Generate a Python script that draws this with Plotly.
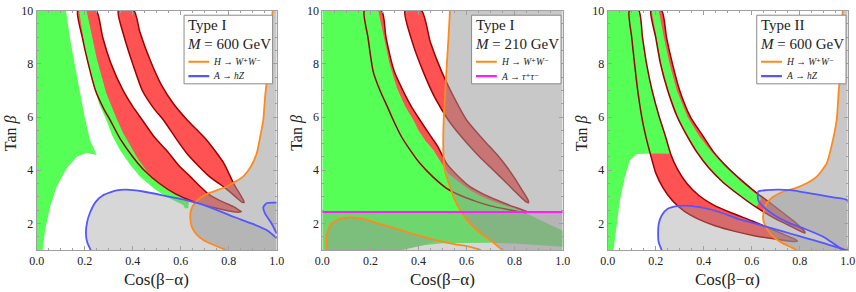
import plotly.graph_objects as go

# ------------------------------------------------------------------ data
X_TICKS = [0.0, 0.2, 0.4, 0.6, 0.8, 1.0]
X_TICK_TEXT = ["0.0", "0.2", "0.4", "0.6", "0.8", "1.0"]
Y_TICKS = [2, 4, 6, 8, 10]
Y_TICK_TEXT = ["2", "4", "6", "8", "10"]

PANEL_TYPE = ["Type I", "Type I", "Type II"]
PANEL_MASS = ["600", "210", "600"]
LEGEND_1 = ["H → W⁺W⁻", "H → W⁺W⁻", "H → W⁺W⁻"]
LEGEND_2 = ["A → hZ", "A → τ⁺τ⁻", "A → hZ"]

# ---- panel 1 (Type I, 600 GeV)
P1_GREEN_LEFT = [(0, 1), (0, 10), (0.122, 10), (0.14, 8.9), (0.16, 7.9), (0.18, 6.9), (0.20, 6.0),
                 (0.222, 5.14), (0.25, 4.57), (0.208, 4.66), (0.167, 4.51), (0.125, 4.07),
                 (0.083, 3.38), (0.056, 2.63), (0.035, 1.75), (0.025, 1.0)]
P1_GREEN_STRIP = [(0.177, 10), (0.20, 8.6), (0.23, 7.4), (0.26, 6.5), (0.29, 5.89), (0.315, 5.3),
                  (0.347, 4.76), (0.39, 4.2), (0.43, 3.76), (0.49, 3.3), (0.54, 3.0), (0.61, 2.69),
                  (0.618, 2.57), (0.632, 2.57), (0.634, 2.85), (0.58, 3.1), (0.51, 3.5), (0.46, 3.95),
                  (0.42, 4.45), (0.39, 4.9), (0.36, 5.4), (0.33, 6.0), (0.29, 6.9), (0.25, 8.2), (0.208, 10)]
P1_L1 = [(0.171, 10), (0.19, 9), (0.215, 8), (0.245, 7), (0.28, 6.3), (0.305, 5.9), (0.35, 5.15),
         (0.40, 4.51), (0.45, 3.98), (0.51, 3.51), (0.58, 3.1), (0.653, 2.82), (0.75, 2.57), (0.84, 2.42)]
P1_R1 = [(0.248, 10), (0.275, 9), (0.31, 8), (0.36, 7), (0.40, 6.4), (0.44, 5.89), (0.49, 5.25),
         (0.54, 4.76), (0.59, 4.2), (0.64, 3.76), (0.68, 3.4), (0.72, 3.07), (0.77, 2.83), (0.82, 2.63),
         (0.848, 2.47)]
P1_TIP1 = (0.853, 2.44)
P1_L2 = [(0.34, 10), (0.365, 9), (0.40, 8), (0.44, 7), (0.49, 6.3), (0.528, 5.89), (0.58, 5.2),
         (0.625, 4.64), (0.67, 4.2), (0.72, 3.76), (0.79, 3.3), (0.835, 2.95), (0.855, 2.8)]
P1_R2 = [(0.405, 10), (0.43, 9.2), (0.47, 8.2), (0.52, 7.2), (0.57, 6.5), (0.627, 5.89), (0.708, 5.14),
         (0.78, 4.26), (0.82, 3.51), (0.85, 3.05), (0.862, 2.86)]
P1_TIP2 = (0.864, 2.79)
P1_ORANGE = [(0.983, 10), (0.975, 9), (0.965, 7.9), (0.952, 6.8), (0.944, 5.89), (0.93, 5.2),
             (0.917, 4.64), (0.89, 4.1), (0.86, 3.76), (0.79, 3.38), (0.72, 3.15), (0.685, 2.98),
             (0.66, 2.78), (0.643, 2.5), (0.64, 2.2), (0.646, 1.88), (0.665, 1.6), (0.694, 1.38),
             (0.74, 1.18), (0.79, 1.0)]
P1_BLUE = [(0.225, 1.0), (0.21, 1.3), (0.205, 1.63), (0.21, 2.05), (0.222, 2.4), (0.245, 2.8),
           (0.275, 3.05), (0.333, 3.24), (0.375, 3.27), (0.444, 3.2), (0.54, 3.03), (0.61, 2.9),
           (0.70, 2.68), (0.82, 2.25), (0.90, 1.98), (0.958, 1.75), (0.993, 1.5), (1.0, 1.45)]
P1_BLUE_LOOP = [(1.0, 2.78), (0.958, 2.76), (0.944, 2.6), (0.951, 2.38), (0.975, 2.05), (0.99, 1.8),
                (1.0, 1.62)]

# ---- panel 2 (Type I, 210 GeV)
P2_GREEN = [(0, 1), (0, 10), (0.233, 10), (0.255, 9), (0.28, 8), (0.31, 7.1), (0.345, 6.4),
            (0.379, 5.89), (0.40, 5.5), (0.43, 5.1), (0.462, 4.76), (0.49, 4.35), (0.524, 3.88),
            (0.57, 3.55), (0.614, 3.26), (0.66, 3.02), (0.711, 2.82), (0.77, 2.65), (0.822, 2.5),
            (0.878, 2.25), (0.93, 2.02), (0.961, 1.88), (1.0, 1.72), (1.0, 1.12), (0.9, 1.18),
            (0.8, 1.24), (0.7, 1.27), (0.6, 1.27), (0.5, 1.25), (0.42, 1.18), (0.36, 1.06), (0.33, 1.0)]
P2_L1 = [(0.175, 10), (0.19, 9), (0.212, 7.7), (0.24, 7), (0.27, 6.4), (0.295, 5.89), (0.33, 5.25),
         (0.37, 4.7), (0.406, 4.26), (0.46, 3.75), (0.517, 3.32), (0.58, 3.03), (0.642, 2.82),
         (0.70, 2.66), (0.767, 2.53), (0.845, 2.4)]
P2_R1 = [(0.247, 10), (0.265, 9), (0.30, 7.7), (0.33, 7.1), (0.37, 6.4), (0.406, 5.89), (0.448, 5.32),
         (0.48, 4.9), (0.517, 4.26), (0.56, 3.82), (0.614, 3.38), (0.67, 3.1), (0.725, 2.88),
         (0.78, 2.68), (0.836, 2.5), (0.85, 2.45)]
P2_TIP1 = (0.853, 2.42)
P2_L2 = [(0.344, 10), (0.375, 8.8), (0.42, 7.7), (0.47, 6.7), (0.524, 5.89), (0.57, 5.35),
         (0.614, 4.89), (0.66, 4.45), (0.711, 4.01), (0.755, 3.62), (0.795, 3.26), (0.83, 2.95),
         (0.85, 2.8)]
P2_R2 = [(0.413, 10), (0.45, 8.8), (0.497, 7.7), (0.55, 6.7), (0.60, 5.89), (0.645, 5.4),
         (0.684, 5.01), (0.73, 4.55), (0.767, 4.13), (0.80, 3.7), (0.822, 3.38), (0.845, 3.05),
         (0.857, 2.85)]
P2_TIP2 = (0.858, 2.78)
P2_ORANGE = [(0.531, 10), (0.525, 9), (0.518, 8), (0.51, 6.7), (0.505, 5.89), (0.503, 5.0),
             (0.505, 4.4), (0.512, 3.9), (0.531, 3.38), (0.55, 2.9), (0.573, 2.5), (0.60, 2.15),
             (0.628, 1.88), (0.66, 1.62), (0.698, 1.38), (0.74, 1.06), (0.75, 1.0)]
P2_LOOP = [(0.018, 1.0), (0.016, 1.35), (0.022, 1.7), (0.035, 1.95), (0.06, 2.12), (0.09, 2.21),
           (0.12, 2.23), (0.17, 2.17), (0.24, 1.98), (0.337, 1.72), (0.41, 1.52), (0.476, 1.36),
           (0.55, 1.22), (0.614, 1.12), (0.66, 1.0)]
P2_TAU_LIMIT = 2.43

# ---- panel 3 (Type II, 600 GeV)
P3_GREEN_LEFT = [(0, 1), (0, 10), (0.13, 10), (0.145, 9), (0.162, 8), (0.185, 7), (0.215, 6),
                 (0.24, 5.3), (0.262, 4.62), (0.2, 4.63), (0.16, 4.63), (0.121, 4.61), (0.093, 4.38),
                 (0.072, 3.76), (0.051, 2.88), (0.0375, 1.88), (0.024, 1.0)]
P3_GREEN_STRIP = [(0.183, 10), (0.203, 9), (0.223, 8), (0.253, 7), (0.293, 6), (0.333, 5.3),
                  (0.373, 4.7), (0.423, 4.1), (0.483, 3.55), (0.553, 3.05), (0.62, 2.62),
                  (0.64, 2.95), (0.61, 3.17), (0.55, 3.62), (0.49, 4.12), (0.43, 4.72), (0.38, 5.3),
                  (0.333, 6), (0.288, 7), (0.258, 8), (0.234, 9), (0.213, 10)]
P3_L1 = [(0.09, 10), (0.10, 9), (0.112, 8), (0.125, 7), (0.142, 6), (0.158, 5.3), (0.178, 4.6),
         (0.20, 3.9), (0.23, 3.35), (0.27, 2.85), (0.32, 2.45), (0.38, 2.15), (0.45, 1.9),
         (0.53, 1.7), (0.62, 1.52), (0.70, 1.41), (0.775, 1.32)]
P3_R1 = [(0.13, 10), (0.145, 9), (0.162, 8), (0.185, 7), (0.215, 6), (0.24, 5.3), (0.262, 4.62),
         (0.29, 4.05), (0.33, 3.5), (0.38, 3.05), (0.44, 2.7), (0.52, 2.38), (0.60, 2.1),
         (0.68, 1.8), (0.75, 1.52), (0.785, 1.38)]
P3_TIP1 = (0.79, 1.33)
P3_L2 = [(0.18, 10), (0.20, 9), (0.22, 8), (0.25, 7), (0.29, 6), (0.33, 5.3), (0.37, 4.7),
         (0.42, 4.1), (0.48, 3.55), (0.55, 3.05), (0.62, 2.6), (0.69, 2.22), (0.75, 1.95),
         (0.80, 1.72), (0.815, 1.66)]
P3_R2 = [(0.225, 10), (0.245, 9), (0.27, 8), (0.30, 7), (0.345, 6), (0.396, 5.3), (0.44, 4.7),
         (0.50, 4.1), (0.56, 3.6), (0.62, 3.15), (0.68, 2.75), (0.73, 2.4), (0.78, 2.05),
         (0.81, 1.8), (0.82, 1.7)]
P3_TIP2 = (0.822, 1.64)
P3_ORANGE = [(0.979, 10), (0.975, 9), (0.971, 7.89), (0.962, 6.9), (0.954, 5.89), (0.935, 5.0),
             (0.9125, 4.26), (0.87, 3.75), (0.829, 3.51), (0.78, 3.32), (0.73, 3.19), (0.69, 3.0),
             (0.6625, 2.76), (0.65, 2.45), (0.648, 2.13), (0.66, 1.85), (0.676, 1.63), (0.70, 1.42),
             (0.73, 1.25), (0.765, 1.1), (0.7875, 1.0)]
P3_BLUE1 = [(0.225, 1.0), (0.212, 1.3), (0.21, 1.63), (0.213, 2.0), (0.225, 2.3), (0.25, 2.55),
            (0.29, 2.65), (0.34, 2.66), (0.40, 2.58), (0.468, 2.42), (0.55, 2.15), (0.62, 1.98),
            (0.70, 1.78), (0.76, 1.62), (0.83, 1.44), (0.885, 1.3), (0.95, 1.12), (0.985, 1.0)]
P3_BLUE2 = [(0.627, 3.2), (0.66, 3.25), (0.76, 3.25), (0.85, 3.12), (0.94, 2.98), (1.0, 2.86),
            (1.0, 1.0), (0.99, 1.0), (0.968, 1.08), (0.898, 1.5), (0.82, 1.8), (0.76, 2.0),
            (0.70, 2.28), (0.648, 2.63), (0.627, 2.88)]

# ------------------------------------------------------------------ styles
GREEN = "#55ff55"
RED = "#ff5252"
DARKRED = "#9e0000"
ORANGE = "#ff8a1c"
BLUE = "#5656ff"
MAGENTA = "#ff1aff"
GRAY_LIGHT = "rgba(150,150,150,0.38)"
GRAY_MED = "rgba(150,150,150,0.52)"
FONT = "Liberation Serif"

fig = go.Figure()


def ax_names(i):
    return ("x", "y") if i == 1 else (f"x{i}", f"y{i}")


def closed(pts):
    xs = [p[0] for p in pts]
    ys = [p[1] for p in pts]
    return xs + [xs[0]], ys + [ys[0]]


def add_fill(pts, color, i, smooth=False):
    xa, ya = ax_names(i)
    xs, ys = closed(pts)
    line = dict(width=0, color=color)
    if smooth:
        line.update(shape="spline", smoothing=0.6)
    fig.add_trace(go.Scatter(x=xs, y=ys, fill="toself", fillcolor=color, mode="lines",
                             line=line, xaxis=xa, yaxis=ya, hoverinfo="skip", showlegend=False))


def add_line(pts, color, width, i, close=False):
    xa, ya = ax_names(i)
    if close:
        xs, ys = closed(pts)
    else:
        xs = [p[0] for p in pts]
        ys = [p[1] for p in pts]
    fig.add_trace(go.Scatter(x=xs, y=ys, mode="lines",
                             line=dict(color=color, width=width, shape="spline", smoothing=0.6),
                             xaxis=xa, yaxis=ya, hoverinfo="skip", showlegend=False))


def band(left, tip, right):
    return left + [tip] + right[::-1]


def right_region(curve):
    return curve + [(1.0, 1.0), (1.0, 10.0)]


def math_label(s):
    a, b = s.split(" → ")
    sup = "<span style='font-family:DejaVu Serif'>{}</span>"
    b = b.replace("⁺", sup.format("⁺")).replace("⁻", sup.format("⁻"))
    return f"<i>{a}</i> → <i>{b}</i>"


bands = {
    1: [band(P1_L1, P1_TIP1, P1_R1), band(P1_L2, P1_TIP2, P1_R2)],
    2: [band(P2_L1, P2_TIP1, P2_R1), band(P2_L2, P2_TIP2, P2_R2)],
    3: [band(P3_L1, P3_TIP1, P3_R1), band(P3_L2, P3_TIP2, P3_R2)],
}

# red band fills
for i in (1, 2, 3):
    for b in bands[i]:
        add_fill(b, RED, i, smooth=True)

# green regions
add_fill(P1_GREEN_LEFT, GREEN, 1)
add_fill(P1_GREEN_STRIP, GREEN, 1)
add_fill(P2_GREEN, GREEN, 2)
add_fill(P3_GREEN_LEFT, GREEN, 3)
add_fill(P3_GREEN_STRIP, GREEN, 3)

# band outlines
for i in (1, 2, 3):
    for b in bands[i]:
        add_line(b, DARKRED, 1.5, i, close=True)

# gray exclusion overlays
add_fill(P1_BLUE + [(1.0, 1.0)], GRAY_LIGHT, 1)
add_fill(P1_BLUE_LOOP, GRAY_LIGHT, 1)
add_fill(right_region(P1_ORANGE), GRAY_MED, 1)

tau_box = [(0, 1), (1, 1), (1, P2_TAU_LIMIT), (0, P2_TAU_LIMIT)]
add_fill(tau_box, GRAY_LIGHT, 2)
add_fill(right_region(P2_ORANGE), GRAY_MED, 2)
loop_cut = max(p[0] for p in P2_LOOP if p[1] > 1.3)
loop_overlay = [p for p in P2_LOOP if p[0] <= loop_cut] + \
               [p for p in P2_GREEN[-8:] if p[0] < loop_cut]
add_fill(loop_overlay, GRAY_LIGHT, 2)

add_fill(P3_BLUE1, GRAY_LIGHT, 3)
add_fill(right_region(P3_ORANGE), GRAY_MED, 3)
add_fill(P3_BLUE2, GRAY_LIGHT, 3)

# boundary curves
add_line(P1_ORANGE, ORANGE, 1.8, 1)
add_line(P1_BLUE, BLUE, 1.8, 1)
add_line(P1_BLUE_LOOP, BLUE, 1.8, 1)
add_line(P2_ORANGE, ORANGE, 1.8, 2)
add_line(P2_LOOP, ORANGE, 1.8, 2)
add_line([(0, P2_TAU_LIMIT), (1, P2_TAU_LIMIT)], MAGENTA, 2.0, 2)
add_line(P3_ORANGE, ORANGE, 1.8, 3)
add_line(P3_BLUE1, BLUE, 1.8, 3)
add_line(P3_BLUE2, BLUE, 1.8, 3, close=True)

# ------------------------------------------------------------------ layout
W, H = 856, 292
x_px = [(36.7, 276.7), (322.3, 562.7), (607.7, 847.7)]
y_dom = [1 - 250 / H, 1 - 10.7 / H]

frame = dict(showline=True, linecolor="#a0a0a0", linewidth=1, mirror="allticks", ticks="inside",
             ticklen=4, tickcolor="#a0a0a0", tickwidth=1, showgrid=False, zeroline=False,
             tickfont=dict(family=FONT, size=12, color="#222"), automargin=False)

layout = dict(width=W, height=H, margin=dict(l=0, r=0, t=0, b=0), plot_bgcolor="white",
              paper_bgcolor="white", showlegend=False)
for i in (1, 2, 3):
    sx = "" if i == 1 else str(i)
    layout[f"xaxis{sx}"] = dict(frame, domain=[x_px[i - 1][0] / W, x_px[i - 1][1] / W], range=[0, 1],
                                tickmode="array", tickvals=X_TICKS, ticktext=X_TICK_TEXT,
                                anchor=f"y{sx}",
                                minor=dict(ticks="inside", ticklen=2, tickcolor="#a0a0a0",
                                           tickmode="linear", tick0=0, dtick=0.05, showgrid=False))
    layout[f"yaxis{sx}"] = dict(frame, domain=y_dom, range=[1, 10], tickmode="array",
                                tickvals=Y_TICKS, ticktext=Y_TICK_TEXT, anchor=f"x{sx}",
                                minor=dict(ticks="inside", ticklen=2, tickcolor="#a0a0a0",
                                           tickmode="linear", tick0=0, dtick=0.5, showgrid=False))
fig.update_layout(**layout)

annotations = []
shapes = []
box_x = [(0.614, 0.983), (0.621, 0.993), (0.621, 0.993)]
line_cols = [(ORANGE, BLUE), (ORANGE, MAGENTA), (ORANGE, BLUE)]
for i in (1, 2, 3):
    xa, ya = ax_names(i)
    x0, x1 = x_px[i - 1]
    cx = (x0 + x1) / 2 / W
    annotations.append(dict(x=cx, y=1 - 279 / H, xref="paper", yref="paper", text="Cos(β−α)",
                            showarrow=False, font=dict(family=FONT, size=17, color="#222"),
                            xanchor="center", yanchor="middle"))
    annotations.append(dict(x=max(x0 - 36.5, 0) / W, y=1 - 133 / H, xref="paper", yref="paper",
                            text="Tan <i>β</i>", textangle=-90, showarrow=False,
                            font=dict(family=FONT, size=16, color="#222"),
                            xanchor="left", yanchor="middle"))
    bx0, bx1 = box_x[i - 1]
    shapes.append(dict(type="rect", xref=xa, yref=ya, x0=bx0, x1=bx1, y0=7.25, y1=9.83,
                       fillcolor="white", line=dict(color="#8a8a8a", width=1), layer="above"))
    annotations.append(dict(x=bx0 + 0.01, y=9.45, xref=xa, yref=ya, text=PANEL_TYPE[i - 1],
                            showarrow=False, xanchor="left", yanchor="middle",
                            font=dict(family=FONT, size=15, color="#222")))
    annotations.append(dict(x=bx0 + 0.005, y=8.76, xref=xa, yref=ya,
                            text=f"<i>M</i> = {PANEL_MASS[i - 1]} GeV",
                            showarrow=False, xanchor="left", yanchor="middle",
                            font=dict(family=FONT, size=15, color="#222")))
    for k, (lab, yy) in enumerate(((LEGEND_1[i - 1], 8.08), (LEGEND_2[i - 1], 7.54))):
        shapes.append(dict(type="line", xref=xa, yref=ya, x0=bx0 + 0.018, x1=bx0 + 0.105, y0=yy, y1=yy,
                           line=dict(color=line_cols[i - 1][k], width=2.2), layer="above"))
        annotations.append(dict(x=bx0 + 0.112, y=yy, xref=xa, yref=ya,
                                text=math_label(lab),
                                showarrow=False, xanchor="left", yanchor="middle",
                                font=dict(family=FONT, size=9.5, color="#222")))
fig.update_layout(annotations=annotations, shapes=shapes)

fig.write_html("out.html", config={"displayModeBar": False},
               post_script="document.body.style.margin='0';document.body.style.padding='0';")
